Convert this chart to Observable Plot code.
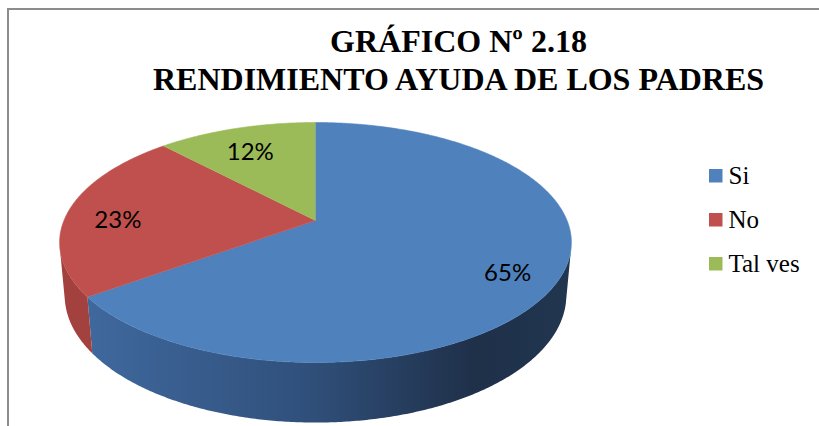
<!DOCTYPE html>
<html><head><meta charset="utf-8">
<script src="https://cdn.jsdelivr.net/npm/d3@7"></script>
<script src="https://cdn.jsdelivr.net/npm/@observablehq/plot@0.6"></script>
<style>
html,body{margin:0;padding:0;background:#fff;overflow:hidden}
</style>
</head><body><div id="chart"></div>
<script>
const titleLines = ["GRÁFICO Nº 2.18", "RENDIMIENTO AYUDA DE LOS PADRES"];
const categories = ["Si", "No", "Tal ves"];
const values = [65, 23, 12];
const labels = ["65%", "23%", "12%"];
const topColors = ["#4f81bd", "#c0504d", "#9bbb59"];
const sideColors = ["url(#blueSide)", "#a3413f", "#7f9a48"];

const W = 819, H = 426;
// perspective view of the pie disc
const P = {cx: 315, cy: 220, kx: 1372, tilt: 24.75 * Math.PI / 180, d: 5.454, depth: 0.232, labelR: 0.8};
const deg = Math.PI / 180;
const cosT = Math.cos(P.tilt), tanT = Math.tan(P.tilt);

function project(a, r, z) {
  const X = r * Math.sin(a), Y = -r * Math.cos(a);
  const zn = P.d - Y + z * tanT;
  return {x: P.cx + P.kx * X / zn, y: P.cy + P.kx * (Y * tanT + z * cosT) / zn};
}
function arc(a0, a1, z) {
  const n = Math.max(2, Math.ceil(Math.abs(a1 - a0) / (0.5 * deg)));
  return d3.range(n + 1).map(i => project(a0 + (a1 - a0) * i / n, 1, z));
}

const slices = d3.pie().sort(null).value(d => d)(values);
const sil = Math.acos(1 / (P.d * cosT * cosT));
const visA = Math.PI - sil, visB = Math.PI + sil;

const sideMarks = [];
const topMarks = [];
slices.forEach((s, i) => {
  const a0 = Math.max(s.startAngle, visA), a1 = Math.min(s.endAngle, visB);
  if (a0 < a1) {
    const poly = arc(a0, a1, 0).concat(arc(a1, a0, P.depth));
    sideMarks.push(Plot.line(poly, {x: "x", y: "y", fill: sideColors[i], stroke: "none"}));
  }
  const top = [project(0, 0, 0), ...arc(s.startAngle, s.endAngle, 0)];
  topMarks.push(Plot.line(top, {x: "x", y: "y", fill: topColors[i], stroke: topColors[i], strokeWidth: 0.6}));
});

const labelData = slices.map((s, i) => ({text: labels[i], ...project((s.startAngle + s.endAngle) / 2, P.labelR, 0)}));

const legendTop = 169, legendStep = 44, sw = 13.5, legendX = 709;
const legendData = categories.map((c, i) => ({name: c, color: topColors[i], y: legendTop + i * legendStep}));

const titleData = titleLines.map((t, i) => ({text: t, y: 51 + i * 38}));

const plot = Plot.plot({
  width: W, height: H, margin: 0,
  x: {domain: [0, W], range: [0, W], axis: null},
  y: {domain: [0, H], range: [0, H], axis: null},
  style: {background: "#fff"},
  marks: [
    Plot.rect([0], {x1: () => 8, x2: () => W + 20, y1: () => 9, y2: () => H + 20, fill: "none", stroke: "#8c8c8c", strokeWidth: 2}),
    ...sideMarks,
    ...topMarks,
    Plot.text(labelData, {x: "x", y: "y", text: "text", dy: 8, fontFamily: "Lato", fontSize: 24, fill: "#000"}),
    Plot.rect(legendData, {x1: () => legendX, x2: () => legendX + sw, y1: "y", y2: d => d.y + sw, fill: "color"}),
    Plot.text(legendData, {x: () => legendX + 19, y: d => d.y + sw + 0.5, text: "name", textAnchor: "start", lineAnchor: "bottom", fontFamily: "Liberation Serif", fontSize: 25, fill: "#000"}),
    Plot.text(titleData, {x: () => 458, y: "y", text: "text", lineAnchor: "bottom", fontFamily: "Liberation Serif", fontWeight: "bold", fontSize: 32, fill: "#000"})
  ]
});

const defs = d3.select(plot).insert("defs", ":first-child");
const g = defs.append("linearGradient").attr("id", "blueSide")
  .attr("gradientUnits", "userSpaceOnUse").attr("x1", 90).attr("x2", 570).attr("y1", 0).attr("y2", 0);
[[0, "#3f689d"], [0.45, "#30507b"], [0.8, "#1f3049"], [1, "#21364f"]].forEach(([o, col]) =>
  g.append("stop").attr("offset", o).attr("stop-color", col));

document.getElementById("chart").appendChild(plot);
</script>
</body></html>
